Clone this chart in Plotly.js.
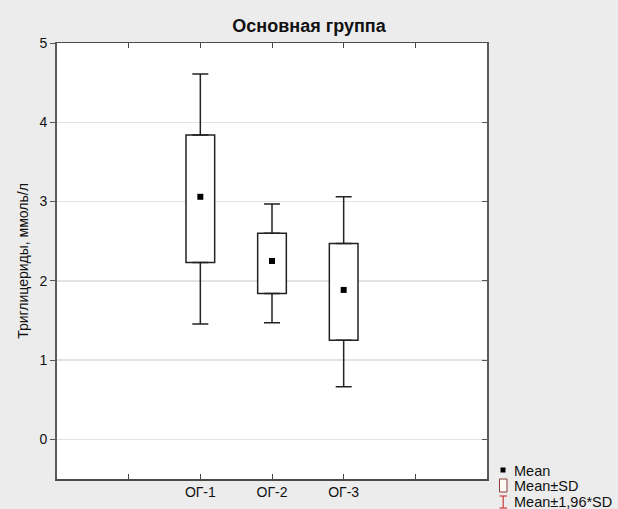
<!DOCTYPE html>
<html>
<head>
<meta charset="utf-8">
<script src="https://cdn.plot.ly/plotly-3.0.1.min.js"></script>
<style>html,body{margin:0;padding:0;background:#ececec;}</style>
</head>
<body>
<div id="chart" style="width:618px;height:509px;"></div>
<script>
// Data
var categories = ["ОГ-1", "ОГ-2", "ОГ-3"];
var catPos = [1, 2, 3];
var means = [3.06, 2.25, 1.885];
var sdLow = [2.23, 1.84, 1.25];
var sdHigh = [3.84, 2.60, 2.47];
var ciLow = [1.455, 1.47, 0.665];
var ciHigh = [4.61, 2.97, 3.06];
var tickVals = [-1, 0, 1, 2, 3, 4, 5];
var tickText = ["", "", "ОГ-1", "ОГ-2", "ОГ-3", "", ""];

var W = 618, H = 509, ML = 57, MR = 131, MT = 43, MB = 30;
var FONT = "Arial, 'Liberation Sans', sans-serif";
function px(x){ return (x - ML) / (W - ML - MR); }
function py(y){ return (H - MB - y) / (H - MT - MB); }

var boxTrace = {
  type: "bar",
  x: catPos,
  base: sdLow,
  y: sdHigh.map(function(v, i){ return v - sdLow[i]; }),
  width: 0.4,
  marker: {color: "#ffffff", line: {color: "#222222", width: 1.5}},
  hoverinfo: "skip",
  showlegend: false
};
var upperWhisker = {
  type: "scatter", mode: "markers",
  x: catPos, y: sdHigh,
  marker: {size: 1, color: "rgba(0,0,0,0)"},
  error_y: {type: "data", symmetric: false,
    array: ciHigh.map(function(v, i){ return v - sdHigh[i]; }),
    arrayminus: sdHigh.map(function(){ return 0; }),
    color: "#222222", thickness: 1.5, width: 8},
  hoverinfo: "skip", showlegend: false
};
var lowerWhisker = {
  type: "scatter", mode: "markers",
  x: catPos, y: sdLow,
  marker: {size: 1, color: "rgba(0,0,0,0)"},
  error_y: {type: "data", symmetric: false,
    array: sdLow.map(function(){ return 0; }),
    arrayminus: sdLow.map(function(v, i){ return v - ciLow[i]; }),
    color: "#222222", thickness: 1.5, width: 8},
  hoverinfo: "skip", showlegend: false
};
var meanTrace = {
  type: "scatter", mode: "markers",
  x: catPos, y: means,
  marker: {symbol: "square", size: 6, color: "#000000"},
  showlegend: false
};
var dummyRight = {
  type: "scatter", mode: "markers", x: [0], y: [0], yaxis: "y2",
  marker: {size: 1, color: "rgba(0,0,0,0)"}, hoverinfo: "skip", showlegend: false
};

var shapes = [
  {type: "rect", xref: "paper", yref: "paper", x0: px(500.5), x1: px(505.5), y0: py(472.5), y1: py(467.5),
   fillcolor: "#000", line: {width: 0}},
  {type: "rect", xref: "paper", yref: "paper", x0: px(499.5), x1: px(507), y0: py(492), y1: py(479),
   fillcolor: "#fffaf6", line: {color: "#8b3c3c", width: 1}},
  {type: "line", xref: "paper", yref: "paper", x0: px(503.2), x1: px(503.2), y0: py(508), y1: py(496),
   line: {color: "#c83c3c", width: 1.2}},
  {type: "line", xref: "paper", yref: "paper", x0: px(499.5), x1: px(507), y0: py(496), y1: py(496),
   line: {color: "#c83c3c", width: 1.2}},
  {type: "line", xref: "paper", yref: "paper", x0: px(499.5), x1: px(507), y0: py(508), y1: py(508),
   line: {color: "#c83c3c", width: 1.2}}
];
var legendTexts = ["Mean", "Mean±SD", "Mean±1,96*SD"];
var legendY = [470.5, 486, 501.5];
var annotations = legendTexts.map(function(t, i){
  return {text: t, xref: "paper", yref: "paper", x: px(512), y: py(legendY[i]),
    xanchor: "left", yanchor: "middle", showarrow: false,
    font: {family: FONT, size: 14.5, color: "#111"}};
});

var layout = {
  width: W, height: H,
  margin: {l: ML, r: MR, t: MT, b: MB, pad: 0},
  paper_bgcolor: "#ececec",
  plot_bgcolor: "#ffffff",
  font: {family: FONT, size: 14, color: "#111"},
  title: {text: "<b>Основная группа</b>", x: 0.5, xanchor: "center", xref: "container",
    y: 1 - 26 / H, yanchor: "middle", yref: "container",
    font: {family: FONT, size: 18, color: "#111"}},
  barmode: "overlay",
  showlegend: false,
  xaxis: {range: [-1, 5], tickvals: tickVals, ticktext: tickText,
    ticks: "inside", ticklen: 5, tickcolor: "#444", tickwidth: 1,
    showgrid: false, zeroline: false, showline: true, linecolor: "#4a4a4a", linewidth: 1.5,
    mirror: "ticks", tickfont: {family: FONT, size: 14, color: "#111"}, fixedrange: true},
  yaxis: {range: [-0.5, 5], tickvals: [0, 1, 2, 3, 4, 5],
    ticks: "outside", ticklen: 5, tickcolor: "#555", tickwidth: 1,
    showgrid: true, gridcolor: "#e3e3e3", gridwidth: 1.5, zeroline: false,
    showline: true, linecolor: "#5a5a5a", linewidth: 2, mirror: true,
    tickfont: {family: FONT, size: 14, color: "#111"},
    title: {text: "Триглицериды, ммоль/л", standoff: 8, font: {family: FONT, size: 14, color: "#111"}},
    fixedrange: true},
  yaxis2: {range: [-0.5, 5], tickvals: [0, 1, 2, 3, 4, 5], overlaying: "y", side: "right",
    ticks: "inside", ticklen: 5, tickcolor: "#555", showticklabels: false,
    showgrid: false, zeroline: false, showline: false, fixedrange: true},
  shapes: shapes,
  annotations: annotations
};

Plotly.newPlot("chart", [boxTrace, upperWhisker, lowerWhisker, meanTrace, dummyRight], layout,
  {displayModeBar: false, staticPlot: true});
</script>
</body>
</html>
